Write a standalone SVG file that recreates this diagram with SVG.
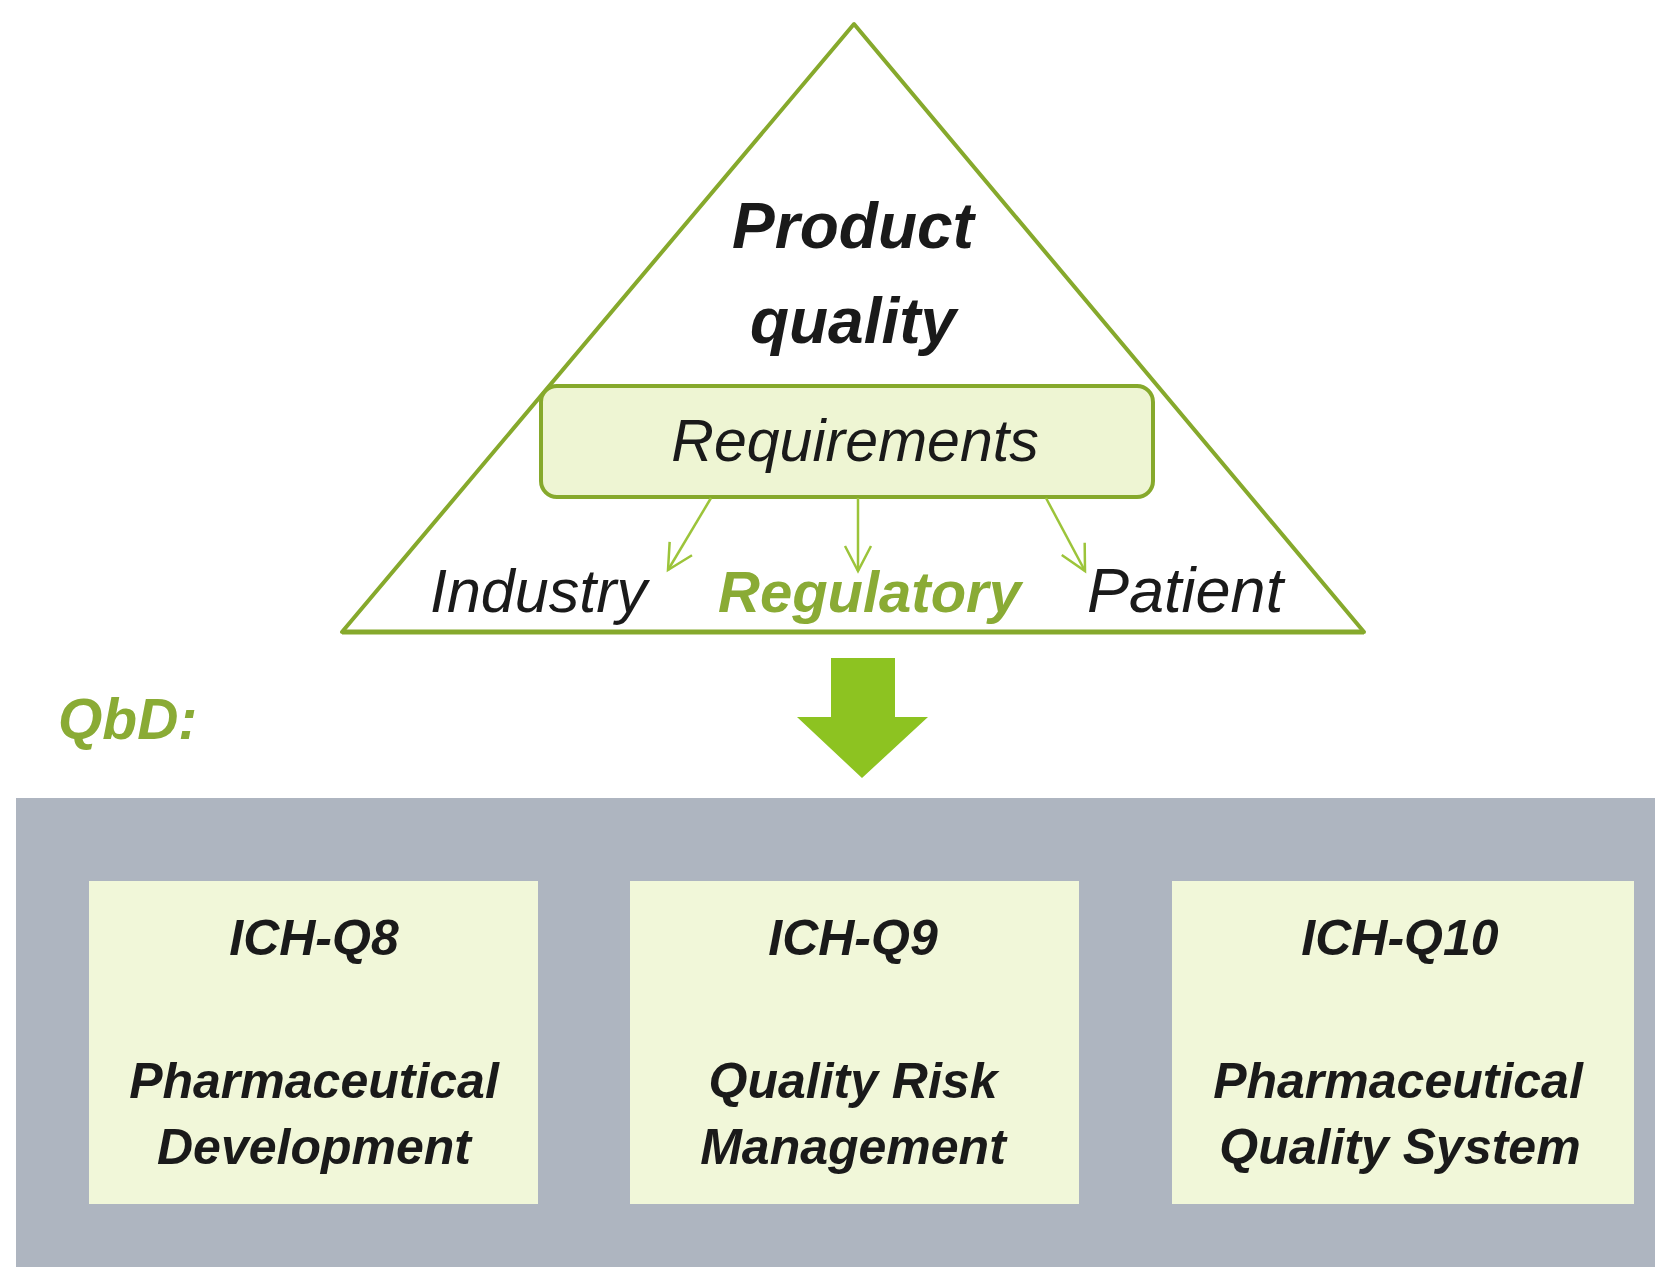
<svg xmlns="http://www.w3.org/2000/svg" width="1655" height="1267" viewBox="0 0 1655 1267">
  <style>
    .bi { font-family: "Liberation Sans", Arial, sans-serif; font-weight: bold; font-style: italic; }
    .it { font-family: "Liberation Sans", Arial, sans-serif; font-style: italic; }
    .dark { fill: #1a1a1a; }
    .olive { fill: #8aab35; }
    .card { fill: #f1f7d9; }
    .link { stroke: #9cc43a; stroke-width: 2.5; fill: none; marker-end: url(#chev); }
  </style>
  <defs>
    <marker id="chev" viewBox="0 0 30 30" refX="27" refY="15" markerWidth="30" markerHeight="30" markerUnits="userSpaceOnUse" orient="auto">
      <path d="M2,2 L27,15 L2,28" fill="none" stroke="#9cc43a" stroke-width="2.5"/>
    </marker>
  </defs>

  <rect width="1655" height="1267" fill="#ffffff"/>

  <!-- pyramid -->
  <g id="pyramid">
    <polygon points="854,24 342,632 1364,632" fill="#ffffff" stroke="#86a92c" stroke-width="4" stroke-linejoin="round"/>
    <line x1="342" y1="632" x2="1364" y2="632" stroke="#86a92c" stroke-width="5"/>
    <text class="bi dark" x="853" y="248" font-size="64" text-anchor="middle">Product</text>
    <text class="bi dark" x="853" y="343" font-size="64" text-anchor="middle">quality</text>
  </g>

  <!-- requirements box -->
  <g id="requirements">
    <rect x="541" y="386" width="612" height="111" rx="16" fill="#eef5d3" stroke="#86a92c" stroke-width="4"/>
    <text class="it dark" x="855" y="461" font-size="59" text-anchor="middle">Requirements</text>
  </g>

  <!-- stakeholders -->
  <g id="industry">
    <text class="it dark" x="430" y="612" font-size="61">Industry</text>
  </g>
  <g id="regulatory">
    <text class="bi olive" x="718" y="612" font-size="58" fill="#8db036">Regulatory</text>
  </g>
  <g id="patient">
    <text class="it dark" x="1087" y="612" font-size="63">Patient</text>
  </g>

  <!-- connectors -->
  <g id="connectors">
    <line class="link" x1="711" y1="498" x2="668" y2="570"/>
    <line class="link" x1="858" y1="498" x2="858" y2="571"/>
    <line class="link" x1="1046" y1="498" x2="1085" y2="571"/>
    <polygon id="flow-arrow" points="831,658 895,658 895,717 928,717 862,778 797,717 831,717" fill="#8dc321"/>
  </g>

  <!-- QbD label -->
  <g id="qbd-label">
    <text class="bi olive" x="58" y="739" font-size="57">QbD:</text>
  </g>

  <!-- QbD panel -->
  <g id="qbd-panel">
    <rect x="16" y="798" width="1639" height="469" fill="#aeb5c0"/>
  </g>

  <g id="ich-q8">
    <rect class="card" x="89" y="881" width="449" height="323"/>
    <text class="bi dark" x="314" y="955" font-size="50" text-anchor="middle">ICH-Q8</text>
    <text class="bi dark" x="314" y="1098" font-size="50" text-anchor="middle">Pharmaceutical</text>
    <text class="bi dark" x="314" y="1164" font-size="50" text-anchor="middle">Development</text>
  </g>

  <g id="ich-q9">
    <rect class="card" x="630" y="881" width="449" height="323"/>
    <text class="bi dark" x="853" y="955" font-size="50" text-anchor="middle">ICH-Q9</text>
    <text class="bi dark" x="853" y="1098" font-size="50" text-anchor="middle">Quality Risk</text>
    <text class="bi dark" x="853" y="1164" font-size="50" text-anchor="middle">Management</text>
  </g>

  <g id="ich-q10">
    <rect class="card" x="1172" y="881" width="462" height="323"/>
    <text class="bi dark" x="1400" y="955" font-size="50" text-anchor="middle">ICH-Q10</text>
    <text class="bi dark" x="1398" y="1098" font-size="50" text-anchor="middle">Pharmaceutical</text>
    <text class="bi dark" x="1400" y="1164" font-size="50" text-anchor="middle">Quality System</text>
  </g>
</svg>
